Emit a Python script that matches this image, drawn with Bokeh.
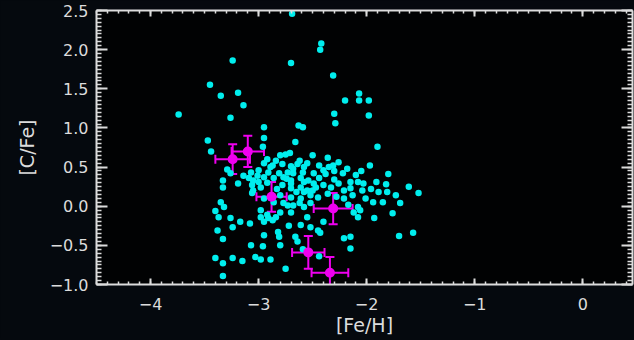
from bokeh.plotting import figure
from bokeh.models import (ColumnDataSource, FixedTicker, LinearAxis, Range1d,
                          Whisker, TeeHead)
from bokeh.embed import file_html
from bokeh.resources import INLINE
import numpy as np

# ---- data -------------------------------------------------------------
fe_h = [-2.69, -2.42, -2.43, -3.24, -2.70, -2.31, -3.45, -3.19, -3.35, -2.07,
        -2.20, -2.07, -1.98, -3.14, -3.74, -2.30, -1.98, -3.26, -2.29, -2.63,
        -2.59, -2.95, -3.47, -2.95, -2.66, -2.96, -1.90, -3.44, -2.50, -2.80,
        -2.75, -2.71, -2.36, -2.26, -2.31, -2.35, -1.97, -2.95, -2.87, -2.78,
        -2.70, -2.64, -2.58, -3.29, -3.26, -3.07, -3.00, -2.91, -2.81, -2.73,
        -2.68, -2.59, -2.49, -2.38, -2.22, -1.80, -3.14, -3.09, -3.05, -2.95,
        -2.86, -2.77, -2.70, -2.61, -2.54, -3.33, -3.19, -3.33, -3.06, -2.98,
        -2.78, -2.70, -2.61, -2.55, -2.47, -2.49, -2.40, -2.33, -2.21, -2.15,
        -2.08, -2.03, -2.04, -1.91, -1.82, -1.89, -1.81, -1.61, -1.52, -3.06,
        -2.80, -2.70, -2.61, -2.52, -2.45, -2.21, -2.13, -2.01, -1.94, -1.85,
        -1.69, -3.35, -3.32, -2.77, -2.68, -2.58, -2.52, -2.08, -2.12, -3.40,
        -2.80, -2.70, -1.76, -3.37, -3.26, -3.17, -3.08, -2.98, -2.95, -2.91,
        -2.87, -2.84, -2.55, -1.93, -2.40, -3.24, -3.38, -2.72, -2.61, -2.43,
        -2.66, -2.64, -2.81, -2.95, -3.33, -2.21, -2.15, -1.70, -1.57, -3.07,
        -2.96, -2.80, -2.15, -3.40, -3.33, -3.24, -3.15, -3.03, -2.98, -2.89,
        -2.75, -3.33, -2.44, -2.59,
        -2.89, -2.68, -2.40, -3.01, -2.70, -2.58, -2.26, -2.15, -3.05, -2.58,
        -2.98, -2.92, -2.73, -2.06, -2.08, -2.52, -2.82, -2.45,
        -2.92, -2.84, -2.62, -2.55, -2.44, -2.30, -2.18, -2.10, -2.05, -2.92,
        -2.83, -2.65, -2.50, -2.36, -2.28, -2.17, -2.95, -2.86, -3.00, -2.74,
        -2.44, -2.30, -1.96, -1.73, -2.62]
c_fe = [2.46, 2.08, 2.00, 1.86, 1.83, 1.67, 1.55, 1.45, 1.41, 1.44,
        1.35, 1.35, 1.35, 1.29, 1.17, 1.18, 1.16, 1.13, 1.06, 1.03,
        1.01, 1.01, 0.84, 0.87, 0.82, 0.76, 0.76, 0.70, 0.65, 0.65,
        0.66, 0.68, 0.62, 0.56, 0.52, 0.50, 0.52, 0.55, 0.52, 0.54,
        0.51, 0.54, 0.50, 0.47, 0.42, 0.43, 0.46, 0.43, 0.42, 0.43,
        0.42, 0.43, 0.42, 0.41, 0.42, 0.41, 0.39, 0.36, 0.33, 0.37,
        0.36, 0.37, 0.33, 0.36, 0.33, 0.33, 0.29, 0.24, 0.27, 0.24,
        0.27, 0.23, 0.24, 0.20, 0.24, 0.29, 0.27, 0.24, 0.20, 0.23,
        0.31, 0.29, 0.20, 0.31, 0.28, 0.18, 0.18, 0.25, 0.17, 0.17,
        0.14, 0.11, 0.10, 0.14, 0.11, 0.10, 0.14, 0.10, 0.05, 0.05,
        0.04, 0.05, -0.01, 0.04, 0.01, -0.01, 0.04, -0.01, -0.08, -0.06,
        -0.08, -0.08, -0.09, -0.14, -0.15, -0.20, -0.22, -0.14, -0.20, -0.15,
        -0.18, -0.14, -0.14, -0.15, -0.20, -0.27, -0.31, -0.25, -0.24, -0.34,
        -0.39, -0.45, -0.39, -0.37, -0.42, -0.41, -0.39, -0.38, -0.34, -0.50,
        -0.51, -0.50, -0.54, -0.66, -0.73, -0.66, -0.70, -0.65, -0.68, -0.68,
        -0.80, -0.89, -0.64, -0.55,
        0.50, 0.48, 0.46, 0.39, 0.29, 0.31, 0.29, 0.31, 0.20, 0.18,
        -0.05, -0.11, 0.01, -0.05, -0.14, -0.27, -0.33, -0.31,
        0.60, 0.58, 0.58, 0.55, 0.52, 0.45, 0.48, 0.40, 0.45, 0.30,
        0.22, 0.18, 0.20, 0.16, 0.12, 0.02, 0.10, 0.05, 0.31, 0.35,
        0.36, 0.34, 0.22, 0.14, 0.04]

# highlighted stars with error bars
star_fe_h = [-3.24, -3.10, -2.88, -2.31, -2.54, -2.34]
star_c_fe = [0.60, 0.70, 0.12, -0.03, -0.59, -0.85]
star_fe_err = [0.16, 0.15, 0.14, 0.18, 0.15, 0.17]
star_c_err = [0.19, 0.20, 0.19, 0.20, 0.21, 0.20]

x_ticks = [-4, -3, -2, -1, 0]
x_tick_labels = ["\u22124", "\u22123", "\u22122", "\u22121", "0"]
y_ticks = [-1.0, -0.5, 0.0, 0.5, 1.0, 1.5, 2.0, 2.5]
y_tick_labels = ["\u22121.0", "\u22120.5", "0.0", "0.5", "1.0", "1.5", "2.0", "2.5"]

# ---- styling ----------------------------------------------------------
AX = "#dcdcdc"
FONT = "DejaVu Sans"
CYAN = "#00eeee"
MAG = "#f000f0"
BG = "#05090e"

p = figure(frame_width=536, frame_height=274,
           x_range=Range1d(-4.5, 0.46), y_range=Range1d(-1.0, 2.5),
           output_backend="svg", toolbar_location=None,
           min_border_left=96, min_border_top=10, min_border_right=2,
           min_border_bottom=40,
           background_fill_color="#010203", border_fill_color=BG,
           outline_line_color=None)
p.grid.visible = False

x_minor = list(np.round(np.arange(-4.5, 0.5, 0.1), 3))
y_minor = list(np.round(np.arange(-1.0, 2.51, 0.05), 3))
xt = FixedTicker(ticks=x_ticks, minor_ticks=x_minor)
yt = FixedTicker(ticks=y_ticks, minor_ticks=y_minor)
x_over = {t: l for t, l in zip(x_ticks, x_tick_labels)}
y_over = {t: l for t, l in zip(y_ticks, y_tick_labels)}


def style(ax, major, minor):
    ax.axis_line_color = AX
    ax.axis_line_width = 2
    ax.major_tick_line_color = AX
    ax.minor_tick_line_color = AX
    ax.major_tick_line_width = 2
    ax.minor_tick_line_width = 1.5
    ax.major_tick_in = major
    ax.major_tick_out = 0
    ax.minor_tick_in = minor
    ax.minor_tick_out = 0
    ax.major_label_text_color = AX
    ax.major_label_text_font = FONT
    ax.major_label_text_font_size = "16px"
    ax.axis_label_text_color = AX
    ax.axis_label_text_font = FONT
    ax.axis_label_text_font_size = "19px"
    ax.axis_label_text_font_style = "normal"


xb = p.xaxis[0]
xb.ticker = xt
xb.major_label_overrides = x_over
xb.axis_label = "[Fe/H]"
style(xb, 6, 3)
xb.major_label_standoff = 13
xb.axis_label_standoff = 1

yl = p.yaxis[0]
yl.ticker = yt
yl.major_label_overrides = y_over
yl.axis_label = "[C/Fe]"
style(yl, 11, 5)
yl.major_label_standoff = 8
yl.axis_label_standoff = 9

xtop = LinearAxis(ticker=xt, major_label_overrides={t: "" for t in x_ticks})
style(xtop, 6, 3)
xtop.major_label_standoff = 0
p.add_layout(xtop, "above")

yr = LinearAxis(ticker=yt, major_label_overrides={t: "" for t in y_ticks})
style(yr, 11, 5)
yr.major_label_standoff = 0
p.add_layout(yr, "right")

# ---- glyphs -----------------------------------------------------------
p.scatter(fe_h, c_fe, size=6.5, color=CYAN, line_color=None)

src = ColumnDataSource(dict(
    x=star_fe_h, y=star_c_fe,
    xl=[a - e for a, e in zip(star_fe_h, star_fe_err)],
    xu=[a + e for a, e in zip(star_fe_h, star_fe_err)],
    yl=[a - e for a, e in zip(star_c_fe, star_c_err)],
    yu=[a + e for a, e in zip(star_c_fe, star_c_err)],
))


def head():
    return TeeHead(size=9, line_color=MAG, line_width=2)


p.add_layout(Whisker(source=src, base="y", lower="xl", upper="xu",
                     dimension="width", line_color=MAG, line_width=2,
                     lower_head=head(), upper_head=head()))
p.add_layout(Whisker(source=src, base="x", lower="yl", upper="yu",
                     dimension="height", line_color=MAG, line_width=2,
                     lower_head=head(), upper_head=head()))
p.scatter("x", "y", source=src, size=10, color=MAG, line_color=None)

html = file_html(p, INLINE)
html = html.replace("<body>", '<body style="background:%s">' % BG)
open("out.html", "w").write(html)
